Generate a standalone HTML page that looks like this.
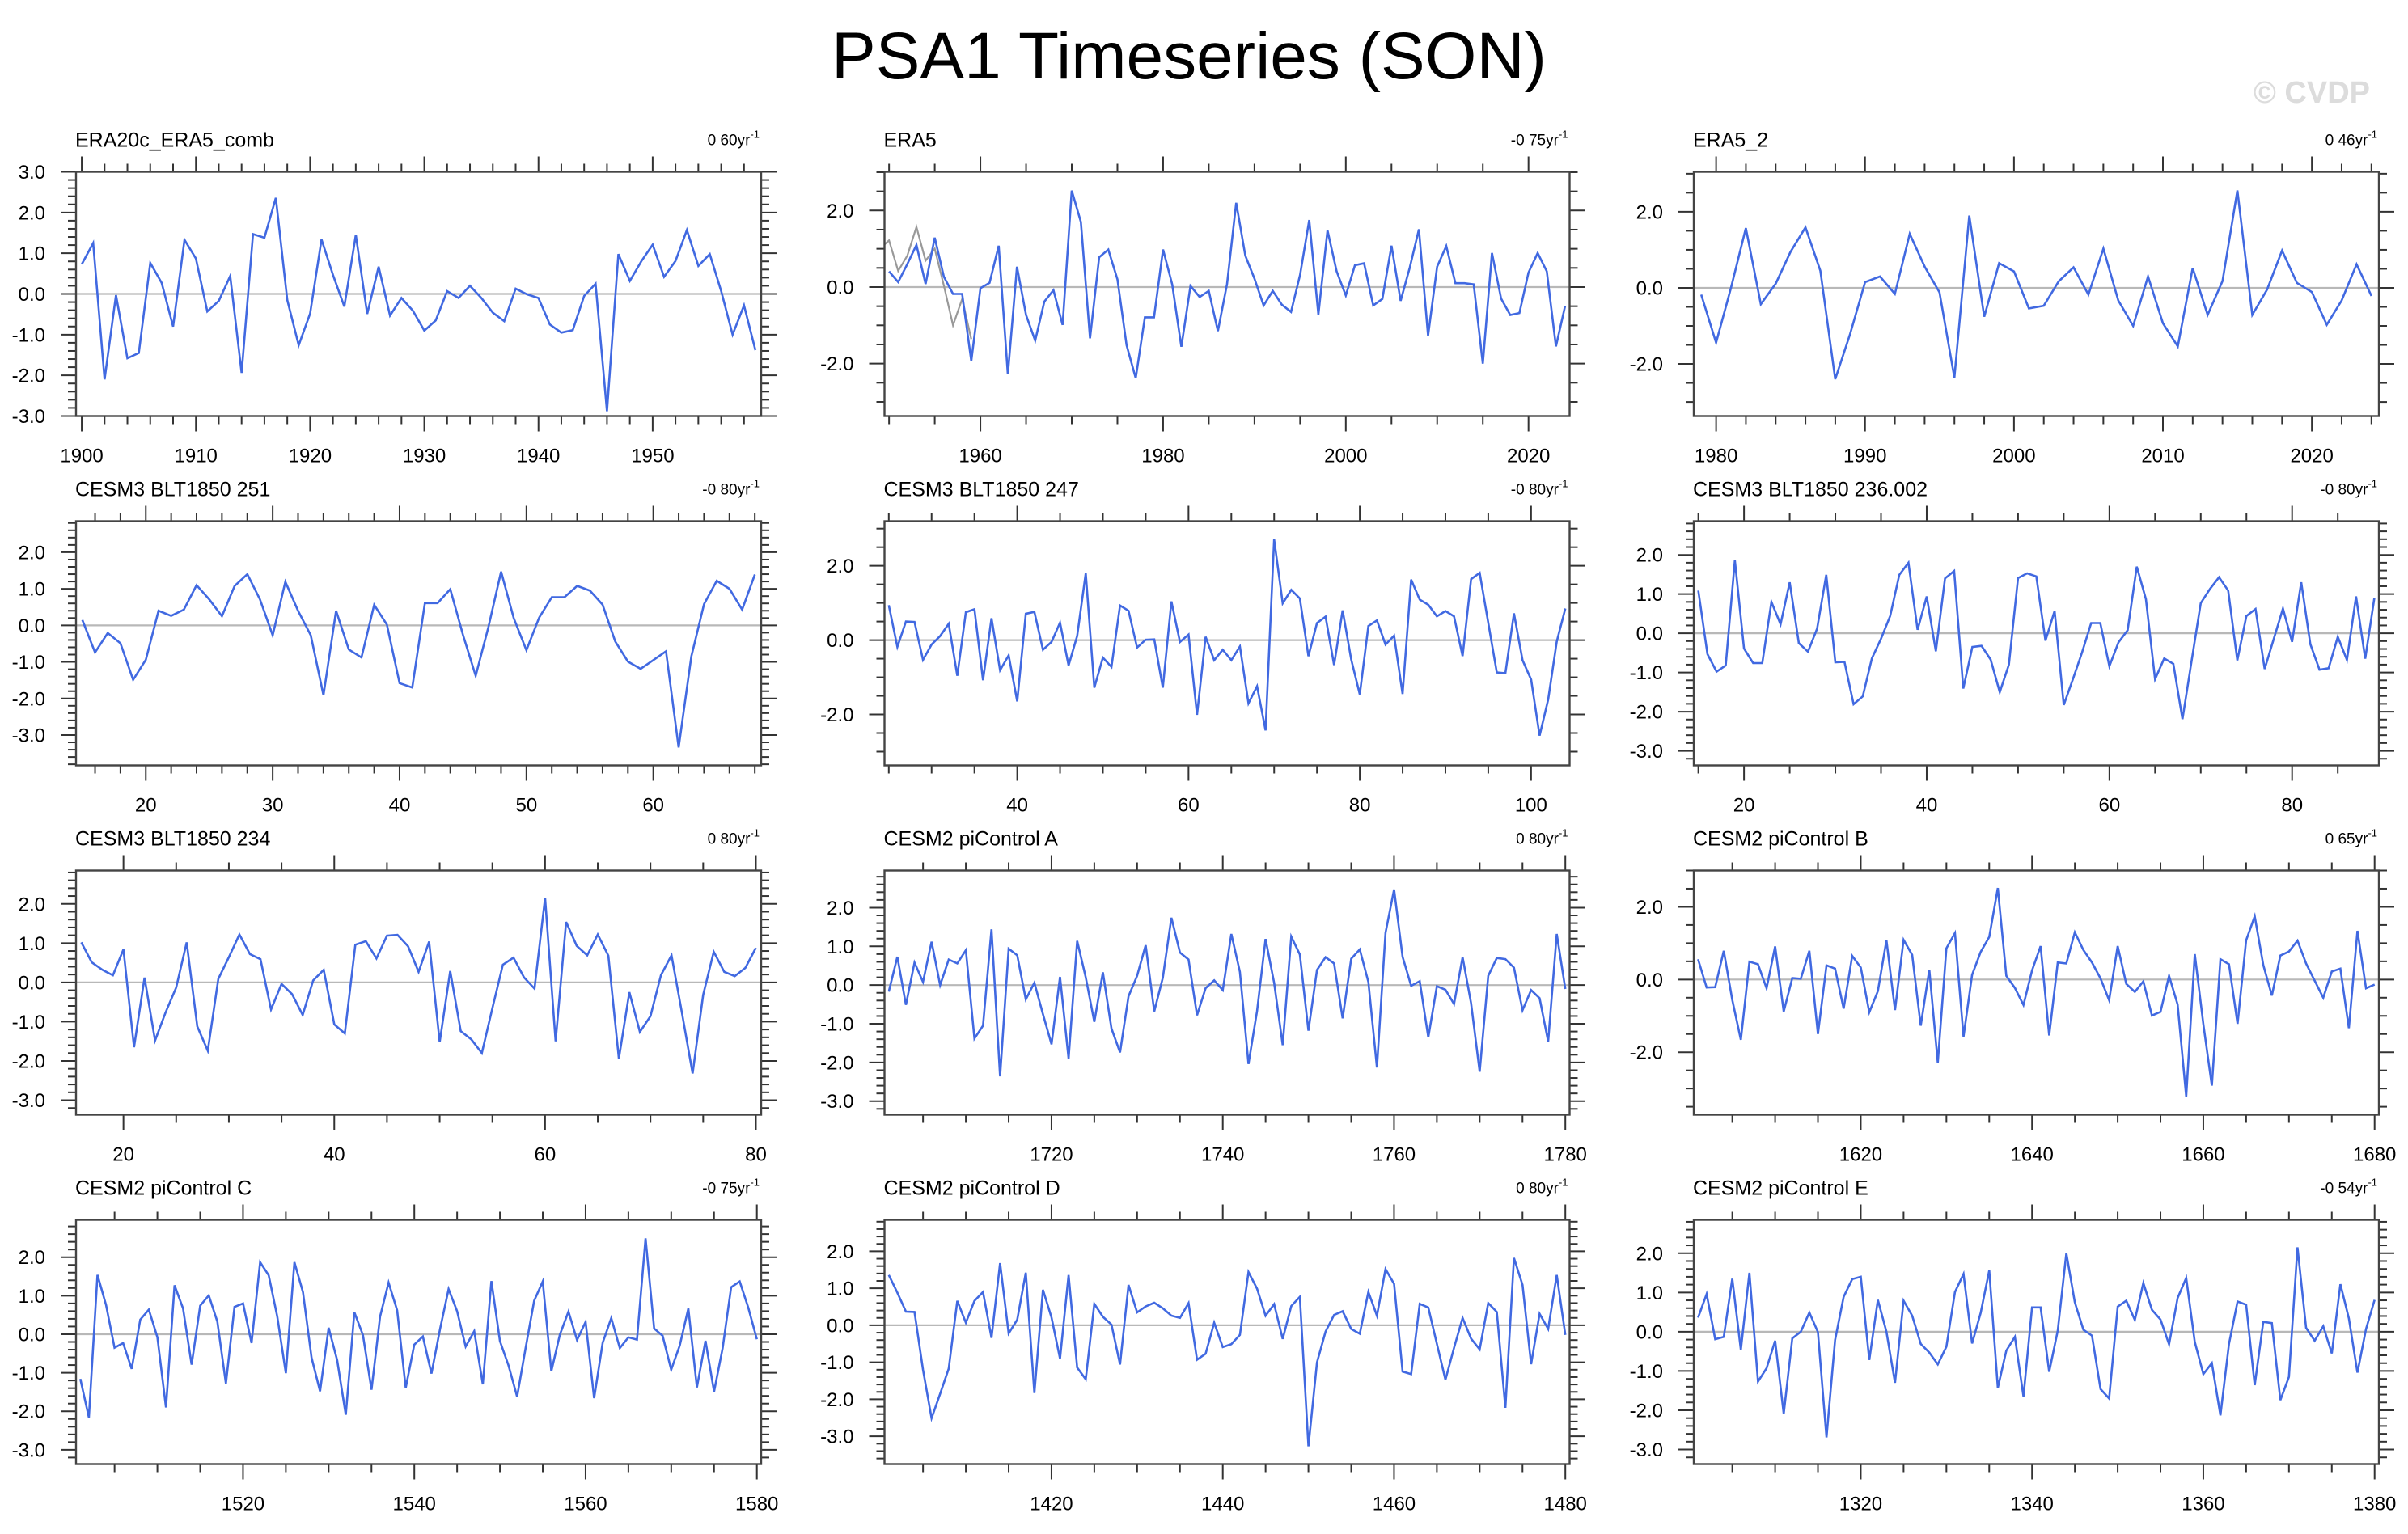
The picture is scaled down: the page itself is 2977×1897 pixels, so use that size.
<!DOCTYPE html>
<html>
<head>
<meta charset="utf-8">
<style>
html,body{margin:0;padding:0;background:#fff;}
svg{display:block;font-family:"Liberation Sans",Arial,sans-serif;}
</style>
</head>
<body>
<svg id="chart" width="2977" height="1897" viewBox="0 0 2977 1897" xmlns="http://www.w3.org/2000/svg">
<rect x="0" y="0" width="2977" height="1897" fill="#fff"/>
<text x="1470" y="97" font-size="82" text-anchor="middle" fill="#000">PSA1 Timeseries (SON)</text>
<text x="2930" y="127" font-size="38" font-weight="bold" text-anchor="end" fill="#dcdcdc">© CVDP</text>
<g id="panels"></g>
</svg>
<script>
// ---- data arrays (start year + values) ----
const era20cStart = 1900;
const era20cVals = [0.73,1.25,-2.1,-0.03,-1.58,-1.45,0.76,0.27,-0.8,1.33,0.87,-0.43,-0.17,0.44,-1.94,1.47,1.38,2.36,-0.15,-1.26,-0.48,1.34,0.47,-0.31,1.45,-0.49,0.67,-0.53,-0.1,-0.41,-0.9,-0.65,0.07,-0.1,0.2,-0.1,-0.46,-0.67,0.13,-0.01,-0.1,-0.75,-0.95,-0.89,-0.05,0.25,-2.88,0.98,0.32,0.8,1.21,0.42,0.81,1.57,0.69,0.98,0.07,-1.0,-0.28,-1.38];
const era5Start = 1950;
const era5Vals = [0.41,0.13,0.6,1.1,0.08,1.29,0.27,-0.18,-0.18,-1.93,-0.03,0.11,1.08,-2.28,0.53,-0.73,-1.4,-0.38,-0.08,-0.99,2.52,1.7,-1.34,0.78,0.98,0.2,-1.52,-2.38,-0.79,-0.79,0.98,0.07,-1.56,0.03,-0.26,-0.1,-1.15,0.08,2.2,0.82,0.22,-0.48,-0.1,-0.46,-0.65,0.32,1.75,-0.72,1.48,0.41,-0.22,0.57,0.62,-0.48,-0.31,1.08,-0.36,0.51,1.51,-1.27,0.53,1.07,0.1,0.1,0.07,-2.0,0.89,-0.3,-0.73,-0.68,0.38,0.89,0.41,-1.55,-0.5];
const era5GrayStart = 1949;
const era5GrayVals = [1.0,1.22,0.42,0.82,1.57,0.69,1.0,0.04,-1.0,-0.31,-1.36];
const era5bStart = 1979;
const era5bVals = [-0.18,-1.44,0,1.57,-0.43,0.11,0.95,1.59,0.45,-2.4,-1.21,0.15,0.3,-0.16,1.42,0.56,-0.12,-2.36,1.9,-0.76,0.65,0.43,-0.54,-0.47,0.17,0.54,-0.18,1.03,-0.33,-1.0,0.3,-0.93,-1.54,0.52,-0.71,0.18,2.56,-0.71,-0.04,0.98,0.13,-0.11,-0.97,-0.33,0.62,-0.21];
const blt251Start = 15;
const blt251Vals = [0.15,-0.74,-0.21,-0.49,-1.49,-0.94,0.4,0.26,0.43,1.1,0.71,0.25,1.08,1.4,0.71,-0.27,1.19,0.4,-0.27,-1.91,0.4,-0.66,-0.88,0.56,0.02,-1.58,-1.7,0.61,0.61,0.99,-0.26,-1.38,-0.05,1.47,0.2,-0.68,0.21,0.77,0.77,1.08,0.95,0.57,-0.44,-0.99,-1.19,-0.95,-0.71,-3.34,-0.85,0.58,1.22,1.0,0.43,1.39];
const blt247Start = 25;
const blt247Vals = [0.94,-0.18,0.5,0.49,-0.53,-0.12,0.11,0.44,-0.96,0.75,0.83,-1.08,0.59,-0.81,-0.41,-1.65,0.71,0.76,-0.26,-0.05,0.47,-0.68,0.11,1.8,-1.28,-0.47,-0.72,0.93,0.79,-0.2,0.01,0.02,-1.28,1.04,-0.05,0.15,-2.01,0.09,-0.54,-0.26,-0.54,-0.17,-1.7,-1.24,-2.43,2.71,0.99,1.35,1.12,-0.43,0.46,0.63,-0.67,0.8,-0.52,-1.46,0.38,0.53,-0.12,0.12,-1.45,1.63,1.09,0.95,0.64,0.78,0.64,-0.43,1.64,1.81,0.47,-0.87,-0.89,0.72,-0.54,-1.06,-2.57,-1.6,-0.04,0.85];
const blt236Start = 15;
const blt236Vals = [1.09,-0.53,-0.98,-0.82,1.86,-0.39,-0.76,-0.76,0.8,0.23,1.3,-0.25,-0.47,0.12,1.49,-0.74,-0.73,-1.81,-1.61,-0.64,-0.14,0.44,1.49,1.8,0.09,0.94,-0.46,1.4,1.59,-1.41,-0.35,-0.32,-0.67,-1.5,-0.8,1.41,1.53,1.45,-0.19,0.57,-1.83,-1.17,-0.49,0.26,0.26,-0.84,-0.23,0.08,1.7,0.87,-1.17,-0.64,-0.78,-2.19,-0.7,0.77,1.13,1.43,1.09,-0.69,0.44,0.62,-0.91,-0.14,0.63,-0.22,1.3,-0.28,-0.93,-0.89,-0.09,-0.68,0.94,-0.65,0.9];
const blt234Start = 16;
const blt234Vals = [1.02,0.51,0.32,0.18,0.84,-1.65,0.12,-1.48,-0.76,-0.13,1.02,-1.12,-1.74,0.09,0.64,1.22,0.72,0.59,-0.69,-0.04,-0.3,-0.83,0.05,0.32,-1.07,-1.3,0.96,1.05,0.61,1.19,1.21,0.92,0.27,1.04,-1.52,0.29,-1.24,-1.45,-1.8,-0.66,0.45,0.63,0.13,-0.16,2.15,-1.5,1.54,0.93,0.69,1.22,0.68,-1.94,-0.25,-1.26,-0.86,0.19,0.69,-0.8,-2.32,-0.32,0.78,0.27,0.16,0.37,0.88];
const piAStart = 1701;
const piAVals = [-0.17,0.73,-0.51,0.58,0.08,1.12,0.0,0.66,0.56,0.9,-1.38,-1.05,1.44,-2.36,0.94,0.77,-0.37,0.06,-0.75,-1.53,0.21,-1.9,1.14,0.2,-0.95,0.33,-1.12,-1.74,-0.29,0.24,1.03,-0.68,0.19,1.74,0.84,0.66,-0.78,-0.08,0.12,-0.13,1.32,0.34,-2.04,-0.67,1.19,0.06,-1.55,1.25,0.79,-1.18,0.39,0.72,0.56,-0.86,0.68,0.92,0.08,-2.13,1.35,2.47,0.73,-0.02,0.1,-1.35,-0.03,-0.12,-0.49,0.72,-0.47,-2.24,0.24,0.7,0.67,0.45,-0.65,-0.13,-0.34,-1.46,1.32,-0.1];
const piBStart = 1601;
const piBVals = [0.56,-0.22,-0.21,0.79,-0.56,-1.66,0.49,0.42,-0.24,0.91,-0.88,0.04,0.02,0.79,-1.5,0.39,0.3,-0.8,0.65,0.33,-0.9,-0.32,1.08,-0.84,1.09,0.68,-1.27,0.27,-2.29,0.86,1.28,-1.57,0.13,0.76,1.17,2.52,0.1,-0.23,-0.7,0.25,0.92,-1.54,0.47,0.44,1.3,0.81,0.47,0.03,-0.57,0.92,-0.12,-0.34,-0.05,-0.99,-0.89,0.1,-0.69,-3.22,0.7,-1.23,-2.92,0.56,0.42,-1.22,1.08,1.74,0.4,-0.44,0.66,0.77,1.07,0.44,-0.03,-0.5,0.22,0.3,-1.34,1.34,-0.24,-0.14];
const piCStart = 1501;
const piCVals = [-1.16,-2.16,1.54,0.76,-0.35,-0.23,-0.9,0.38,0.64,-0.08,-1.9,1.27,0.67,-0.79,0.74,1.01,0.33,-1.28,0.71,0.8,-0.23,1.87,1.53,0.46,-1.01,1.87,1.09,-0.61,-1.48,0.17,-0.68,-2.09,0.57,-0.02,-1.44,0.46,1.34,0.62,-1.39,-0.27,-0.06,-1.02,0.13,1.17,0.6,-0.32,0.08,-1.3,1.38,-0.18,-0.81,-1.62,-0.36,0.87,1.37,-0.96,-0.01,0.59,-0.15,0.32,-1.66,-0.22,0.42,-0.36,-0.08,-0.14,2.49,0.15,-0.04,-0.92,-0.29,0.67,-1.38,-0.17,-1.49,-0.36,1.22,1.37,0.69,-0.13];
const piDStart = 1401;
const piDVals = [1.36,0.88,0.37,0.36,-1.2,-2.51,-1.85,-1.17,0.66,0.07,0.66,0.9,-0.34,1.68,-0.22,0.15,1.42,-1.83,0.96,0.21,-0.9,1.36,-1.14,-1.46,0.58,0.23,0.02,-1.06,1.09,0.35,0.51,0.61,0.46,0.26,0.2,0.6,-0.93,-0.77,0.07,-0.59,-0.51,-0.26,1.44,0.99,0.26,0.57,-0.37,0.52,0.77,-3.27,-1.0,-0.17,0.28,0.38,-0.1,-0.23,0.9,0.26,1.52,1.12,-1.25,-1.32,0.58,0.48,-0.5,-1.47,-0.61,0.2,-0.36,-0.65,0.6,0.36,-2.23,1.82,1.09,-1.05,0.31,-0.1,1.36,-0.26];
const piEStart = 1301;
const piEVals = [0.36,0.96,-0.19,-0.13,1.35,-0.46,1.5,-1.27,-0.93,-0.23,-2.09,-0.17,0.0,0.49,-0.01,-2.69,-0.21,0.89,1.34,1.4,-0.72,0.81,0.0,-1.3,0.79,0.41,-0.31,-0.53,-0.83,-0.38,1.01,1.47,-0.3,0.48,1.56,-1.43,-0.48,-0.13,-1.65,0.62,0.62,-1.02,0.03,2.0,0.75,0.05,-0.1,-1.46,-1.7,0.64,0.79,0.3,1.24,0.56,0.31,-0.32,0.86,1.37,-0.26,-1.08,-0.8,-2.13,-0.31,0.77,0.69,-1.36,0.25,0.22,-1.74,-1.15,2.15,0.1,-0.23,0.14,-0.55,1.21,0.34,-1.04,0.07,0.81];
const panelTitles = ["ERA20c_ERA5_comb","ERA5","ERA5_2","CESM3 BLT1850 251","CESM3 BLT1850 247","CESM3 BLT1850 236.002","CESM3 BLT1850 234","CESM2 piControl A","CESM2 piControl B","CESM2 piControl C","CESM2 piControl D","CESM2 piControl E"];
const trendLabels = ["0 60yr","-0 75yr","0 46yr","-0 80yr","-0 80yr","-0 80yr","0 80yr","0 80yr","0 65yr","-0 75yr","0 80yr","-0 54yr"];
const yRanges = [[-3,3],[-3.37,3.01],[-3.37,3.05],[-3.83,2.85],[-3.37,3.2],[-3.37,2.86],[-3.37,2.85],[-3.35,2.96],[-3.72,3.0],[-3.37,2.97],[-3.75,2.85],[-3.37,2.85]];
const yMajorSteps = [1,2,2,1,2,1,1,1,2,1,1,1];
const xMajorSteps = [10,20,10,10,20,20,20,20,20,20,20,20];

// ---- layout ----
const NS = "http://www.w3.org/2000/svg";
const colLeft = [94, 1093.5, 2094];
const rowTop = [212.5, 644.5, 1076.5, 1508.5];
const boxW = 847, boxH = 302;
const series = [
  [era20cStart, era20cVals],[era5Start, era5Vals],[era5bStart, era5bVals],
  [blt251Start, blt251Vals],[blt247Start, blt247Vals],[blt236Start, blt236Vals],
  [blt234Start, blt234Vals],[piAStart, piAVals],[piBStart, piBVals],
  [piCStart, piCVals],[piDStart, piDVals],[piEStart, piEVals]
];
const root = document.getElementById("panels");
function mk(tag, attrs, parent){
  const e = document.createElementNS(NS, tag);
  for (const k in attrs) e.setAttribute(k, attrs[k]);
  parent.appendChild(e);
  return e;
}
function fmt(v){ return (Math.abs(v) < 1e-9 ? 0 : v).toFixed(1); }

series.forEach(function(s, p){
  const start = s[0], vals = s[1];
  const L = colLeft[p % 3], T = rowTop[Math.floor(p / 3)];
  const xmin = start - 0.5, xmax = start + vals.length - 1 + 0.5;
  const ymin = yRanges[p][0], ymax = yRanges[p][1];
  const xs = function(x){ return L + (x - xmin) / (xmax - xmin) * boxW; };
  const ys = function(y){ return T + (ymax - y) / (ymax - ymin) * boxH; };

  const g = mk("g", {}, root);
  
  

  const clipId = "clip" + p;
  const cp = mk("clipPath", {id: clipId}, g);
  mk("rect", {x: L, y: T, width: boxW, height: boxH}, cp);

  // title
  const tt = mk("text", {x: L - 1, y: T - 31, "font-size": 25, fill: "#000"}, g);
  tt.textContent = panelTitles[p];
  
  
  const tr = mk("text", {x: L + boxW - 2, y: T - 33, "font-size": 19, "text-anchor": "end", fill: "#000"}, g);
  
  
  const t1 = mk("tspan", {}, tr); t1.textContent = trendLabels[p];
  const t2 = mk("tspan", {dy: -9, "font-size": 13}, tr); t2.textContent = "-1";

  // zero line
  const zl = mk("line", {x1: L, x2: L + boxW, y1: ys(0), y2: ys(0), stroke: "#b8b8b8", "stroke-width": 2.2}, g);
  
  

  // ticks
  const tg = mk("g", {stroke: "#333", "stroke-width": 2}, g);
  
  
  const xMaj = xMajorSteps[p], xMin = xMaj === 10 ? 2 : 5;
  for (let x = Math.ceil(xmin / xMin) * xMin; x <= xmax; x += xMin) {
    const major = Math.abs(x / xMaj - Math.round(x / xMaj)) < 1e-9;
    const len = major ? 19 : 10, X = xs(x);
    mk("line", {x1: X, x2: X, y1: T + boxH, y2: T + boxH + len}, tg);
    mk("line", {x1: X, x2: X, y1: T, y2: T - len}, tg);
    if (major) {
      const lb = mk("text", {x: X, y: T + boxH + 57, "font-size": 24, "text-anchor": "middle", fill: "#000", stroke: "none"}, g);
      lb.textContent = String(x);
      
      
    }
  }
  const yMaj = yMajorSteps[p], yMin = yMaj === 2 ? 0.5 : 0.2;
  const n0 = Math.ceil(ymin / yMin - 1e-9), n1 = Math.floor(ymax / yMin + 1e-9);
  for (let n = n0; n <= n1; n++) {
    const y = n * yMin;
    const major = Math.abs(y / yMaj - Math.round(y / yMaj)) < 1e-6;
    const len = major ? 19 : 10, Y = ys(y);
    mk("line", {x1: L, x2: L - len, y1: Y, y2: Y}, tg);
    mk("line", {x1: L + boxW, x2: L + boxW + len, y1: Y, y2: Y}, tg);
    if (major) {
      const lb = mk("text", {x: L - 38, y: Y + 8.5, "font-size": 24, "text-anchor": "end", fill: "#000", stroke: "none"}, g);
      lb.textContent = fmt(y);
      
      
    }
  }

  // gray overlay series for ERA5
  if (p === 1) {
    const gp = era5GrayVals.map(function(v, i){ return xs(era5GrayStart + i).toFixed(1) + "," + ys(v).toFixed(1); }).join(" ");
    const gl = mk("polyline", {points: gp, fill: "none", stroke: "#999", "stroke-width": 2.2, "clip-path": "url(#" + clipId + ")"}, g);
    
    
  }

  // series
  const pts = vals.map(function(v, i){ return xs(start + i).toFixed(1) + "," + ys(v).toFixed(1); }).join(" ");
  const pl = mk("polyline", {points: pts, fill: "none", stroke: "#4169e1", "stroke-width": 2.6, "stroke-linejoin": "miter", "clip-path": "url(#" + clipId + ")"}, g);
  
  

  // box
  const bx = mk("rect", {x: L, y: T, width: boxW, height: boxH, fill: "none", stroke: "#444", "stroke-width": 2.4}, g);
  
  
});
</script>
</body>
</html>
